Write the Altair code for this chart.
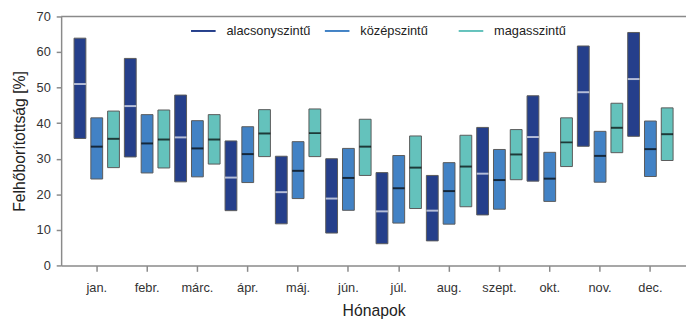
import altair as alt
import pandas as pd

months = ["jan.", "febr.", "márc.", "ápr.", "máj.", "jún.", "júl.", "aug.",
          "szept.", "okt.", "nov.", "dec."]
series = ["alacsonyszintű", "középszintű", "magasszintű"]
colors = ["#253F8B", "#4282C5", "#64C2BC"]

low_min = [35.7, 30.5, 23.5, 15.4, 11.7, 9.1, 6.1, 6.9, 14.2, 23.7, 33.5, 36.3]
low_med = [51.0, 44.8, 36.0, 24.7, 20.6, 18.8, 15.2, 15.4, 25.8, 36.1, 48.7, 52.4]
low_max = [63.9, 58.2, 47.9, 35.0, 30.7, 30.0, 26.1, 25.3, 38.8, 47.7, 61.7, 65.5]

mid_min = [24.3, 26.0, 24.9, 23.3, 18.8, 15.5, 11.9, 11.6, 15.8, 18.0, 23.4, 25.0]
mid_med = [33.4, 34.3, 32.9, 31.3, 26.6, 24.6, 21.7, 20.9, 24.0, 24.4, 30.8, 32.7]
mid_max = [41.5, 42.4, 40.7, 39.0, 34.8, 32.9, 30.9, 28.9, 32.6, 31.8, 37.7, 40.6]

high_min = [27.5, 27.4, 28.5, 30.6, 30.6, 25.3, 16.0, 16.5, 24.1, 27.8, 31.7, 29.5]
high_med = [35.6, 35.4, 35.4, 37.1, 37.2, 33.4, 27.5, 27.8, 31.2, 34.6, 38.7, 36.9]
high_max = [43.4, 43.7, 42.4, 43.8, 44.0, 41.1, 36.4, 36.6, 38.2, 41.5, 45.6, 44.3]

y_ticks = [0, 10, 20, 30, 40, 50, 60, 70]

rows = []
for s, mins, meds, maxs in [
    (series[0], low_min, low_med, low_max),
    (series[1], mid_min, mid_med, mid_max),
    (series[2], high_min, high_med, high_max),
]:
    for m, a, b, c in zip(months, mins, meds, maxs):
        rows.append({"month": m, "series": s, "lo": a, "med": b, "hi": c})
df = pd.DataFrame(rows)
top_df = pd.DataFrame({"top": [70]})

FONT = "Liberation Sans"
GRAY = "#8a8a8a"

yscale = alt.Scale(domain=[0, 70], nice=False, zero=True)
yaxis = alt.Axis(title="Felhőborítottság [%]", values=y_ticks, grid=False,
                 tickSize=5, labelPadding=6, titlePadding=9,
                 labelFontSize=13, titleFontSize=16, titleFontWeight="normal",
                 labelColor="#333333", titleColor="#222222")
xscale = alt.Scale(paddingInner=0, paddingOuter=0.2073)
xaxis = alt.Axis(title="Hónapok", labelAngle=0, tickSize=6, labelPadding=10,
                 titlePadding=9, labelFontSize=13, titleFontSize=16,
                 titleFontWeight="normal", labelColor="#333333",
                 titleColor="#222222", grid=False)
offscale = alt.Scale(domain=series, paddingInner=0.296, paddingOuter=0.148)

base = alt.Chart(df).encode(
    x=alt.X("month:N", sort=months, scale=xscale, axis=xaxis),
    xOffset=alt.XOffset("series:N", sort=series, scale=offscale),
)

legend_layer = base.mark_rule(opacity=0).encode(
    y=alt.Y("lo:Q", scale=yscale, axis=yaxis),
    y2="hi:Q",
    stroke=alt.Stroke(
        "series:N", sort=series,
        scale=alt.Scale(domain=series, range=colors),
        legend=alt.Legend(
            title=None, orient="none", direction="horizontal",
            legendX=131, legendY=1, symbolType="stroke", symbolSize=625,
            symbolStrokeWidth=2, symbolOpacity=1, labelOffset=10,
            columnPadding=10, gridAlign="all", labelFontSize=13,
            labelColor="#222222", labelFont=FONT, padding=0,
        ),
    ),
)

bars = base.mark_bar(stroke="#5a5a5a", strokeWidth=1).encode(
    y=alt.Y("lo:Q", scale=yscale, axis=yaxis),
    y2="hi:Q",
    fill=alt.Fill("series:N", sort=series,
                  scale=alt.Scale(domain=series, range=colors), legend=None),
)

medians = base.mark_tick(thickness=2, size=12).encode(
    y=alt.Y("med:Q", scale=yscale, axis=yaxis),
    color=alt.condition(alt.datum.series == series[0],
                        alt.value("#f2f4fa"), alt.value("#000000")),
)

top_line = alt.Chart(top_df).mark_rule(color=GRAY, strokeWidth=1.5).encode(
    y=alt.Y("top:Q", scale=yscale, axis=yaxis)
)

chart = alt.layer(legend_layer, bars, medians, top_line).properties(
    width=635, height=253,
    autosize=alt.AutoSizeParams(type="none"),
    padding={"left": 54, "top": 6, "right": 0, "bottom": 62},
).configure_view(stroke=None).configure_axis(
    domainColor=GRAY, domainWidth=1.5, tickColor=GRAY, tickWidth=1.5,
    labelFont=FONT, titleFont=FONT,
).configure_legend(labelFont=FONT)

chart.save("out.html", embed_options={"renderer": "svg", "actions": False})
